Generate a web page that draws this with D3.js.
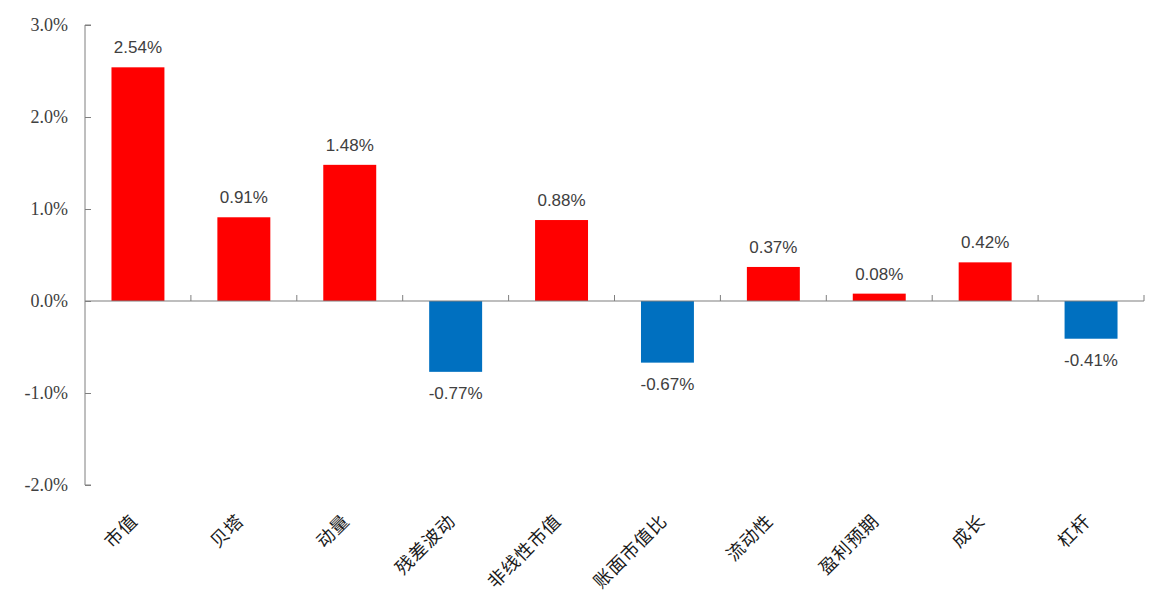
<!DOCTYPE html>
<html><head><meta charset="utf-8">
<script src="https://cdn.jsdelivr.net/npm/d3@7/dist/d3.min.js"></script>
<style>body{margin:0;background:#fff}svg{display:block}
.ytick text{font-family:"Liberation Serif","Times New Roman",serif !important;font-size:18px}</style>
</head><body>
<svg id="c" width="1158" height="597"></svg>
<script>
const categories = ["市值","贝塔","动量","残差波动","非线性市值","账面市值比","流动性","盈利预期","成长","杠杆"];
const values = [2.54, 0.91, 1.48, -0.77, 0.88, -0.67, 0.37, 0.08, 0.42, -0.41];
const yTicks = [-2, -1, 0, 1, 2, 3];

const svg = d3.select("#c");
const x0 = 85, x1 = 1144;
const y = d3.scaleLinear().domain([-2, 3]).range([485, 25]);
const x = d3.scaleBand().domain(categories).range([x0, x1]).paddingInner(0.5).paddingOuter(0.25);
const axisColor = "#7f7f7f";

// y axis
const yAxis = d3.axisLeft(y).tickValues(yTicks).tickSize(-6).tickPadding(17)
  .tickFormat(d => d.toFixed(1) + "%");
const gy = svg.append("g").attr("class", "ytick").attr("transform", `translate(${x0},0)`).call(yAxis)
  .attr("font-family", null).attr("font-size", null);
gy.select(".domain").attr("stroke", axisColor).attr("d", `M6,${y(3)}H0V${y(-2)}H6`);
gy.selectAll(".tick line").attr("stroke", axisColor);
gy.selectAll(".tick text").attr("fill", "#404040");

// bars
svg.append("g").selectAll("rect").data(values).join("rect")
  .attr("x", (d, i) => x(categories[i]))
  .attr("width", x.bandwidth())
  .attr("y", d => y(Math.max(0, d)))
  .attr("height", d => Math.abs(y(d) - y(0)))
  .attr("fill", d => d >= 0 ? "#ff0000" : "#0070c0");

// x axis line with ticks at category boundaries
const step = x.step();
const gx = svg.append("g");
gx.append("line").attr("x1", x0).attr("x2", x1).attr("y1", y(0)).attr("y2", y(0))
  .attr("stroke", axisColor).attr("stroke-width", 1.2);
gx.selectAll("line.tk").data(d3.range(1, categories.length + 1)).join("line")
  .attr("class", "tk")
  .attr("x1", k => x0 + step * k).attr("x2", k => x0 + step * k)
  .attr("y1", y(0)).attr("y2", y(0) - 6)
  .attr("stroke", axisColor);

// data labels
svg.append("g").selectAll("text").data(values).join("text")
  .attr("x", (d, i) => x(categories[i]) + x.bandwidth() / 2)
  .attr("y", d => d >= 0 ? y(d) - 14 : y(d) + 27)
  .attr("text-anchor", "middle")
  .attr("fill", "#404040")
  .attr("font-family", "Liberation Sans")
  .attr("font-size", 17)
  .text(d => d.toFixed(2) + "%");

// category labels rotated
svg.append("g").selectAll("text").data(categories).join("text")
  .attr("transform", d => `translate(${x(d) + x.bandwidth() / 2 + 1},${522}) rotate(-45)`)
  .attr("text-anchor", "end")
  .attr("fill", "#1a1a1a")
  .attr("font-family", "Noto Sans CJK SC")
  .attr("font-size", 18)
  .attr("letter-spacing", 1)
  .text(d => d);
</script>
</body></html>
